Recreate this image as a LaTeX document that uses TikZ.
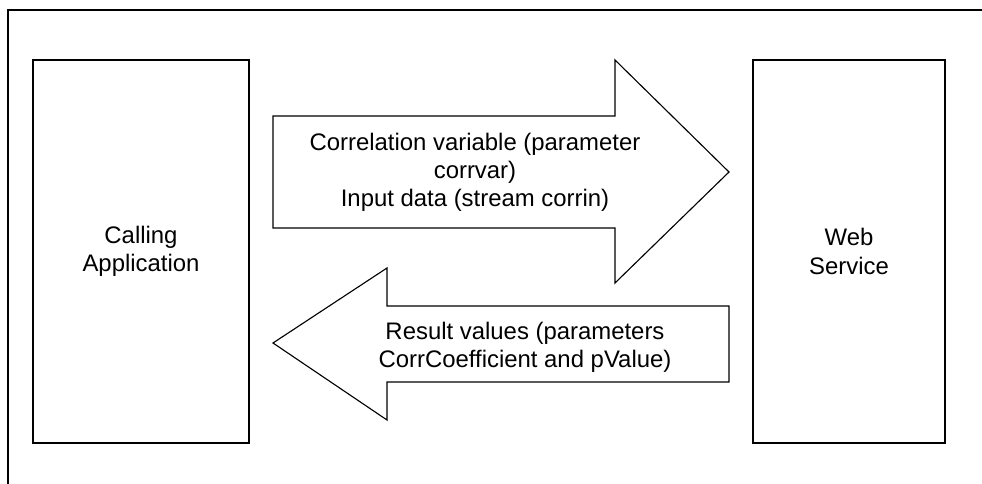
\documentclass[tikz,border=0pt]{standalone}
\usepackage{fontspec}
\setmainfont{Liberation Sans}
\usetikzlibrary{positioning}
\tikzset{
  block/.style={
    rectangle, draw, line width=1.3pt, align=center,
    minimum height=9.575cm, font=\fontsize{17}{20}\selectfont
  },
  bigarrow/.style={draw, line width=0.8pt, fill=white, line join=miter},
  arrowtext/.style={align=center, font=\fontsize{17}{20}\selectfont},
}
\begin{document}
\begin{tikzpicture}[x=0.025cm, y=-0.025cm]
  \useasboundingbox (0,0) rectangle (982,484);
  \clip (0,0) rectangle (982,484);

  % Outer frame
  \draw[line width=1.3pt] (8,10) rectangle (1000,500);

  % Calling application
  \node[block, minimum width=5.4cm] (app) at (141,251.5) {Calling\\Application};

  % Web service
  \node[block, minimum width=4.8cm] (ws) at (849,251.5) {Web\\Service};

  % Request arrow
  \draw[bigarrow] (273,116) -- (615,116) -- (615,60) -- (729,172)
    -- (615,283) -- (615,228) -- (273,228) -- cycle;
  \node[arrowtext] (req) at (475,172) {
    Correlation variable (parameter\\
    corrvar)\\
    Input data (stream corrin)
  };

  % Result arrow
  \draw[bigarrow] (729,306) -- (387,306) -- (387,268) -- (273,343)
    -- (387,420) -- (387,382) -- (729,382) -- cycle;
  \node[arrowtext] (res) at (525,347) {
    Result values (parameters\\
    CorrCoefficient and pValue)
  };

\end{tikzpicture}
\end{document}
